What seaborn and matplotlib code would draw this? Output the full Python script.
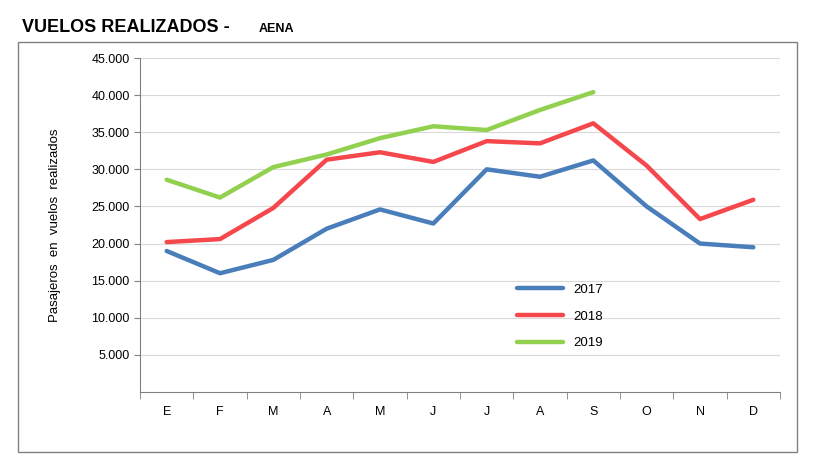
import matplotlib
matplotlib.use("Agg")
import matplotlib.pyplot as plt
import seaborn as sns
import pandas as pd
from matplotlib.patches import Rectangle
from matplotlib.ticker import FuncFormatter

plt.rcParams["font.family"] = "Liberation Sans"

months = ["E", "F", "M", "A", "M", "J", "J", "A", "S", "O", "N", "D"]
v2017 = [19000, 16000, 17800, 22000, 24600, 22700, 30000, 29000, 31200, 25000, 20000, 19500]
v2018 = [20200, 20600, 24800, 31300, 32300, 31000, 33800, 33500, 36200, 30500, 23300, 25900]
v2019 = [28600, 26200, 30300, 32000, 34200, 35800, 35300, 38000, 40400]

rows = []
for year, vals in (("2017", v2017), ("2018", v2018), ("2019", v2019)):
    for i, v in enumerate(vals):
        rows.append({"idx": i, "year": year, "val": v})
df = pd.DataFrame(rows)

fig = plt.figure(figsize=(8.22, 4.71), dpi=100)
fig.patches.append(Rectangle((18/822, 1-452/471), (797-18)/822, (452-42)/471,
                             transform=fig.transFigure, fill=False, ec="#808080", lw=1))
ax = fig.add_axes([140/822, 1-392/471, 640/822, 334/471])
pal = {"2017": "#4a7ebb", "2018": "#f5474c", "2019": "#92d050"}
sns.lineplot(data=df, x="idx", y="val", hue="year", palette=pal, lw=3.2, ax=ax,
             solid_capstyle="round", solid_joinstyle="round")
ax.set_xlim(-0.5, 11.5)
ax.set_ylim(0, 45000)
ax.set_yticks(range(5000, 45001, 5000))
ax.yaxis.set_major_formatter(FuncFormatter(lambda v, p: f"{int(v):,}".replace(",", ".")))
ax.set_xticks(range(12))
ax.set_xticklabels(months)
ax.set_xticks([i - 0.5 for i in range(13)], minor=True)
ax.tick_params(axis="x", which="major", length=0, pad=10, labelsize=9)
ax.tick_params(axis="x", which="minor", length=5, color="#808080")
ax.tick_params(axis="y", length=4, labelsize=9, color="#808080")
ax.grid(axis="y", color="#d9d9d9", lw=0.8)
ax.set_axisbelow(True)
for s in ("top", "right"):
    ax.spines[s].set_visible(False)
for s in ("left", "bottom"):
    ax.spines[s].set_color("#808080")
ax.set_xlabel("")
ax.set_ylabel("Pasajeros  en  vuelos  realizados", fontsize=9.5, labelpad=22)
ax.legend(loc="upper left", bbox_to_anchor=(0.57, 0.36), frameon=False, fontsize=9.5,
          handlelength=3.5, labelspacing=1.1)
fig.text(22/822, 1-28/471, "VUELOS REALIZADOS -", fontsize=13, fontweight="bold", va="center")
fig.text(259/822, 1-29/471, "AENA", fontsize=9, fontweight="bold", va="center")
fig.savefig("out.png", dpi=100)
